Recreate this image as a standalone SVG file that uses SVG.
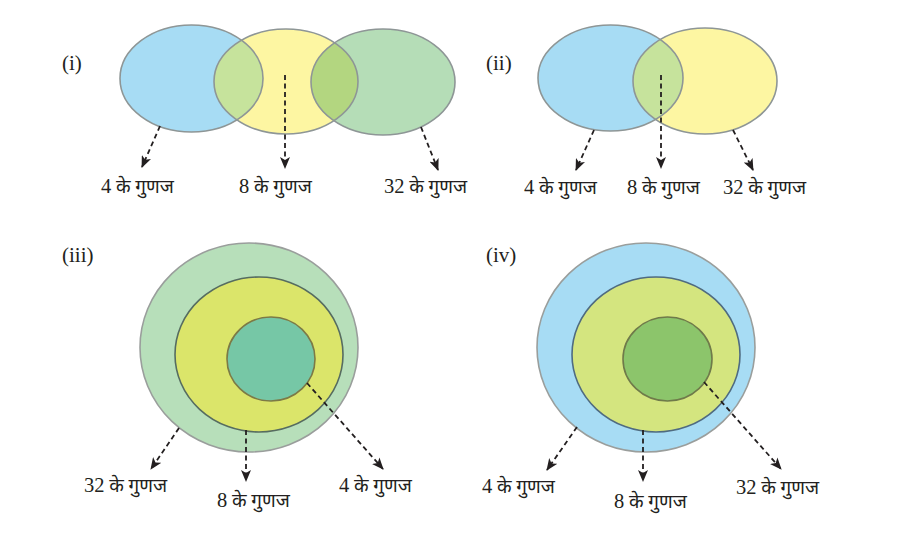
<svg xmlns="http://www.w3.org/2000/svg" width="905" height="555" viewBox="0 0 905 555">
<style>
text{font-family:"Liberation Serif","Noto Sans","DejaVu Sans",serif;font-size:19px;fill:#231f20}
.num{font-size:20.5px}
.lab{font-size:21px}
.venn{stroke:#8e9696;stroke-width:1.6;fill:none}
.con{stroke:#231f20;stroke-width:1.8;stroke-dasharray:5 3.5;fill:none;marker-end:url(#ah)}
</style>
<defs>
<marker id="ah" viewBox="0 0 12 10" refX="11" refY="5" markerWidth="12" markerHeight="10" markerUnits="userSpaceOnUse" orient="auto">
<path d="M0,0 L12,5 L0,10 L3,5 z" fill="#231f20"/>
</marker>
<clipPath id="c1y"><ellipse cx="286" cy="81.5" rx="72" ry="52.5"/></clipPath>
<clipPath id="c2y"><ellipse cx="705" cy="81" rx="72" ry="53"/></clipPath>
</defs>
<rect width="905" height="555" fill="#fff"/>

<g id="panel-i">
<text x="62" y="70" class="lab">(i)</text>
<g id="i-4"><ellipse cx="191.5" cy="78.5" rx="71.5" ry="53.5" fill="#a7dcf4"/></g>
<g id="i-8"><ellipse cx="286" cy="81.5" rx="72" ry="52.5" fill="#fdf6a2"/></g>
<g id="i-32"><ellipse cx="383" cy="82" rx="72" ry="53" fill="#b5ddb7"/></g>
<g clip-path="url(#c1y)">
<ellipse cx="191.5" cy="78.5" rx="71.5" ry="53.5" fill="#c6e39c"/>
<ellipse cx="383" cy="82" rx="72" ry="53" fill="#b3d680"/>
</g>
<ellipse class="venn" cx="191.5" cy="78.5" rx="71.5" ry="53.5"/>
<ellipse class="venn" cx="286" cy="81.5" rx="72" ry="52.5"/>
<ellipse class="venn" cx="383" cy="82" rx="72" ry="53"/>
<text x="101" y="193"><tspan class="num">4</tspan> के गुणज</text>
<text x="239" y="193"><tspan class="num">8</tspan> के गुणज</text>
<text x="384" y="193"><tspan class="num">32</tspan> के गुणज</text>
</g>

<g id="panel-ii">
<text x="486" y="70" class="lab">(ii)</text>
<g id="ii-4"><ellipse cx="610.5" cy="78" rx="72.5" ry="53" fill="#a7dcf4"/></g>
<g id="ii-8"><ellipse cx="705" cy="81" rx="72" ry="53" fill="#fdf6a2"/></g>
<g clip-path="url(#c2y)">
<ellipse cx="610.5" cy="78" rx="72.5" ry="53" fill="#c6e39c"/>
</g>
<ellipse class="venn" cx="610.5" cy="78" rx="72.5" ry="53"/>
<ellipse class="venn" cx="705" cy="81" rx="72" ry="53"/>
<text x="524" y="194"><tspan class="num">4</tspan> के गुणज</text>
<text x="627" y="194"><tspan class="num">8</tspan> के गुणज</text>
<text x="723" y="194"><tspan class="num">32</tspan> के गुणज</text>
</g>

<g id="panel-iii">
<text x="62" y="262" class="lab">(iii)</text>
<g id="iii-32"><ellipse cx="249" cy="347.5" rx="109" ry="104.5" fill="#b7dfba" stroke="#9a9e9c" stroke-width="1.6"/></g>
<g id="iii-8"><ellipse cx="259" cy="354.5" rx="84" ry="77.5" fill="#dbe56a" stroke="#566c60" stroke-width="1.6"/></g>
<g id="iii-4"><ellipse cx="271" cy="359" rx="44" ry="42" fill="#76c7a6" stroke="#7c7a46" stroke-width="1.6"/></g>
<text x="84" y="492"><tspan class="num">32</tspan> के गुणज</text>
<text x="217" y="507"><tspan class="num">8</tspan> के गुणज</text>
<text x="339" y="492"><tspan class="num">4</tspan> के गुणज</text>
</g>

<g id="panel-iv">
<text x="486" y="262" class="lab">(iv)</text>
<g id="iv-4"><ellipse cx="646" cy="347.5" rx="109" ry="104.5" fill="#a7dcf4" stroke="#9a9e9c" stroke-width="1.6"/></g>
<g id="iv-8"><ellipse cx="656" cy="354.5" rx="84" ry="77.5" fill="#d4e57f" stroke="#4f6b80" stroke-width="1.6"/></g>
<g id="iv-32"><ellipse cx="667.5" cy="359" rx="44.5" ry="42" fill="#8cc56b" stroke="#6f7a4a" stroke-width="1.6"/></g>
<text x="482" y="493"><tspan class="num">4</tspan> के गुणज</text>
<text x="614" y="508"><tspan class="num">8</tspan> के गुणज</text>
<text x="736" y="494"><tspan class="num">32</tspan> के गुणज</text>
</g>

<g id="connectors">
<path class="con" d="M160,126 L142,167"/>
<path class="con" d="M285,75 L285,168"/>
<path class="con" d="M421,127 L438,170"/>
<path class="con" d="M594,130 L576,170"/>
<path class="con" d="M661,75 L661,168"/>
<path class="con" d="M733,130 L753,170"/>
<path class="con" d="M179,428 L151,469"/>
<path class="con" d="M246,430 L246,481"/>
<path class="con" d="M307,383 L383,469"/>
<path class="con" d="M577,427 L547,470"/>
<path class="con" d="M643,430 L643,481"/>
<path class="con" d="M704,382 L781,469"/>
</g>
</svg>
